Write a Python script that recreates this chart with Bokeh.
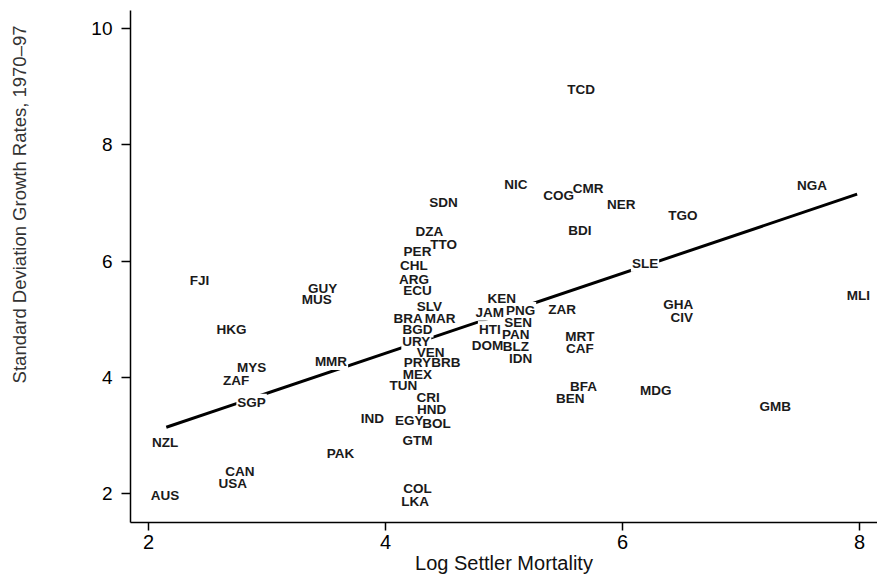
from bokeh.plotting import figure
from bokeh.models import ColumnDataSource, FixedTicker, Range1d, Title
from bokeh.core.properties import value
from bokeh.embed import file_html
from bokeh.resources import INLINE

# ---- data ----
codes = ["TCD", "NGA", "NIC", "SDN", "COG", "CMR", "NER", "BDI", "TGO", "DZA",
         "TTO", "PER", "CHL", "ARG", "ECU", "SLE", "KEN", "SLV", "JAM", "PNG",
         "ZAR", "BRA", "MAR", "BGD", "SEN", "HTI", "PAN", "MRT", "URY", "DOM",
         "BLZ", "CAF", "VEN", "IDN", "PRY", "BRB", "MEX", "TUN", "CRI", "HND",
         "EGY", "BOL", "IND", "GTM", "COL", "LKA", "BFA", "BEN", "MDG", "GMB",
         "GHA", "CIV", "MLI", "FJI", "GUY", "MUS", "HKG", "MYS", "ZAF", "MMR",
         "SGP", "NZL", "PAK", "CAN", "USA", "AUS"]
log_mortality = [5.65, 7.60, 5.10, 4.49, 5.46, 5.71, 5.99, 5.64, 6.51, 4.37,
                 4.49, 4.27, 4.24, 4.24, 4.27, 6.19, 4.98, 4.37, 4.88, 5.14,
                 5.49, 4.19, 4.46, 4.27, 5.12, 4.88, 5.10, 5.64, 4.26, 4.86,
                 5.10, 5.64, 4.38, 5.14, 4.27, 4.51, 4.27, 4.15, 4.36, 4.39,
                 4.20, 4.43, 3.89, 4.27, 4.27, 4.25, 5.67, 5.56, 6.28, 7.29,
                 6.47, 6.50, 7.99, 2.43, 3.47, 3.42, 2.70, 2.87, 2.74, 3.54,
                 2.87, 2.14, 3.62, 2.77, 2.71, 2.14]
sd_growth = [8.95, 7.30, 7.31, 7.01, 7.12, 7.25, 6.97, 6.53, 6.78, 6.50,
             6.28, 6.16, 5.93, 5.69, 5.49, 5.96, 5.36, 5.21, 5.12, 5.15,
             5.16, 5.01, 5.01, 4.83, 4.94, 4.82, 4.74, 4.70, 4.61, 4.54,
             4.53, 4.49, 4.42, 4.33, 4.25, 4.25, 4.05, 3.85, 3.65, 3.45,
             3.26, 3.21, 3.29, 2.92, 2.09, 1.86, 3.84, 3.64, 3.78, 3.50,
             5.26, 5.03, 5.40, 5.66, 5.53, 5.33, 4.83, 4.16, 3.95, 4.27,
             3.57, 2.88, 2.69, 2.37, 2.17, 1.97]
fit_x = [2.15, 7.98]
fit_y = [3.14, 7.15]
x_ticks = [2, 4, 6, 8]
y_ticks = [2, 4, 6, 8, 10]
x_title = "Log Settler Mortality"
y_title = "Standard Deviation Growth Rates, 1970\u201397"

FONT = "Liberation Sans"

p = figure(width=877, height=579,
           x_range=Range1d(1.848, 8.152), y_range=Range1d(1.501, 10.31),
           output_backend="svg", toolbar_location=None,
           min_border_left=130, min_border_right=0,
           min_border_top=10, min_border_bottom=57)
p.outline_line_color = None
p.grid.visible = False
p.background_fill_color = "white"
p.border_fill_color = "white"

p.line(fit_x, fit_y, line_width=3, line_color="black")

src = ColumnDataSource(dict(x=log_mortality, y=sd_growth, code=codes))
# knock-out backgrounds (labels interrupt the fitted line)
p.text("x", "y", text="code", source=src, text_font=value(FONT),
       text_font_size="13.5px", text_font_style="bold",
       text_align="center", text_baseline="middle",
       text_color="white", background_fill_color="white", padding=1)
p.text("x", "y", text="code", source=src, text_font=value(FONT),
       text_font_size="13.5px", text_font_style="bold",
       text_align="center", text_baseline="middle",
       text_color="#1a1a1a")

for ax in (p.xaxis, p.yaxis):
    ax.axis_line_width = 1.5
    ax.axis_line_color = "black"
    ax.major_tick_line_width = 1.5
    ax.major_tick_line_color = "black"
    ax.major_tick_in = 0
    ax.minor_tick_in = 0
    ax.minor_tick_out = 0
    ax.major_label_text_font = FONT
    ax.major_label_text_color = "black"
    ax.axis_label_text_font = FONT
    ax.axis_label_text_font_style = "normal"

p.xaxis.ticker = FixedTicker(ticks=x_ticks, minor_ticks=[])
p.yaxis.ticker = FixedTicker(ticks=y_ticks, minor_ticks=[])

p.xaxis.major_tick_out = 8
p.xaxis.major_label_standoff = 4
p.xaxis.major_label_text_font_size = "20px"
p.xaxis.axis_label = x_title
p.xaxis.axis_label_text_font_size = "20px"
p.xaxis.axis_label_standoff = 0
p.xaxis.axis_label_text_color = "#111111"

p.yaxis.major_tick_out = 9
p.yaxis.major_label_standoff = 9
p.yaxis.major_label_text_font_size = "19px"
# blank axis label used only as spacing so the title sits near the page edge
p.yaxis.axis_label = " "
p.yaxis.axis_label_text_font_size = "18px"
p.yaxis.axis_label_standoff = 31

# y title placed like the reference (its end near the top of the axis)
p.add_layout(Title(text=y_title, align="right", offset=15,
                   text_font=FONT, text_font_size="18.5px",
                   text_font_style="normal", text_color="#333333"), "left")

open("out.html", "w").write(file_html(p, INLINE))
